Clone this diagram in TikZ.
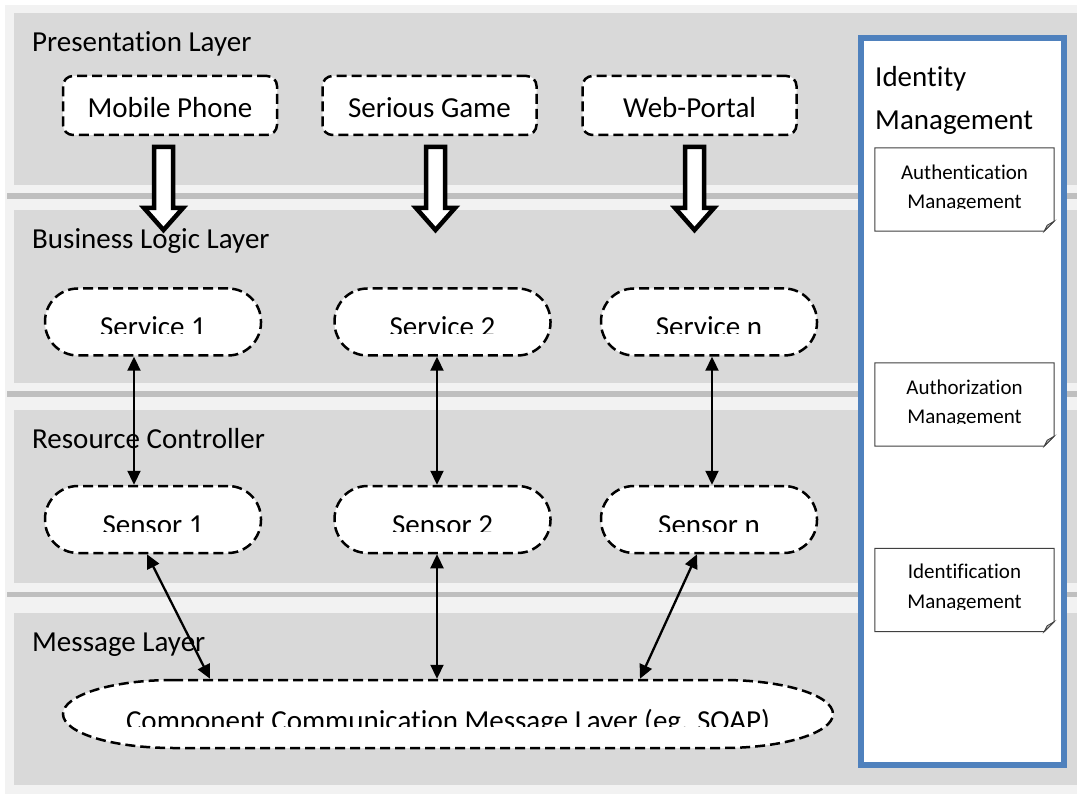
\documentclass[tikz,border=0pt]{standalone}
\usepackage{fontspec}
\setmainfont{Carlito}[Ligatures=NoCommon]
\usetikzlibrary{calc,arrows.meta}
\definecolor{lyrgray}{HTML}{D9D9D9}
\definecolor{lyrlight}{HTML}{F2F2F2}
\definecolor{lyrdark}{HTML}{BFBFBF}
\definecolor{idblue}{HTML}{4F81BD}
\newcommand\fbig{\fontsize{29pt}{34pt}\selectfont}
\newcommand\fsmall{\fontsize{21pt}{25pt}\selectfont}
\begin{document}
\begin{tikzpicture}[x=1pt,y=-1pt,
  dsh/.style={draw=black, line width=2.5pt, dash pattern=on 10pt off 5pt},
  pbox/.style={dsh, fill=white, rounded corners=10pt, minimum width=214pt, minimum height=59pt,
    inner sep=0pt, font=\fbig, text height=25pt, text depth=0pt},
  stad/.style={dsh, fill=white, rounded corners=33pt, minimum width=216pt, minimum height=67pt, inner sep=0pt},
  lbl/.style={anchor=base west, inner sep=0pt, font=\fbig},
  txt/.style={anchor=base, inner sep=0pt, font=\fbig},
  stxt/.style={anchor=base, inner sep=0pt, font=\fsmall},
  dbl/.style={line width=2.3pt, {Triangle[length=14pt,width=13pt]}-{Triangle[length=14pt,width=13pt]}},
  docn/.style={minimum width=179pt, minimum height=83pt, inner sep=0pt},
  docline/.style={draw=black!75, line width=1pt, fill=white},
  fold/.style={draw=black!75, line width=0.8pt, fill=black!25},
  harrow/.pic={\draw[line width=4.5pt, fill=white, miter limit=10]
     (-9.5,0) -- (9.5,0) -- (9.5,61) -- (19.5,61) -- (0,83) -- (-19.5,61) -- (-9.5,61) -- cycle;}
]
\useasboundingbox (0,0) rectangle (1077,794);
\fill[white] (0,0) rectangle (1077,794);
% layers
\fill[lyrlight] (5,5) rectangle (1077,794);
\fill[lyrdark] (7,193) rectangle (1077,199);
\fill[lyrdark] (7,391) rectangle (1077,397);
\fill[lyrdark] (7,592) rectangle (1077,597);
\fill[lyrgray] (14,13) rectangle (1077,185);
\fill[lyrgray] (14,210) rectangle (1077,383);
\fill[lyrgray] (14,410) rectangle (1077,583);
\fill[lyrgray] (14,613) rectangle (1077,785);

\node[lbl] (lpres) at (32,52) {Presentation Layer};
\node[lbl] (lbus) at (32,249) {Business Logic Layer};
\node[lbl] (lres) at (32,449) {Resource Controller};
\node[lbl] (lmsg) at (32,651) {Message Layer};

% identity management
\node[draw=idblue, line width=6pt, fill=white, minimum width=203pt, minimum height=727pt, inner sep=0pt] (idm) at (962.5,401.5) {};
\node[lbl] (id1) at (875,87) {Identity};
\node[lbl] (id2) at (875,130) {Management};

\node[docn] (au) at (964.5,189.5) {};
\node[docn] (az) at (964.5,404.5) {};
\node[docn] (ic) at (964.5,590) {};
\foreach \d in {au,az,ic}{
  \draw[docline] (\d.north west) -- (\d.north east) -- ([yshift=10pt]\d.south east)
     -- ([xshift=-10pt]\d.south east) -- (\d.south west) -- cycle;
  \draw[fold] ([yshift=10pt]\d.south east) -- ([xshift=-10pt]\d.south east) -- ([xshift=-7pt,yshift=6pt]\d.south east) -- cycle;
}
\begin{scope}
  \clip (au.north west) rectangle ($(au.south east)+(0,-22.5)$);
  \node[stxt] (au1) at ($(au.north)+(0,31.5)$) {Authentication};
  \node[stxt] (au2) at ($(au.north)+(0,60.5)$) {Management};
\end{scope}
\begin{scope}
  \clip (az.north west) rectangle ($(az.south east)+(0,-22.5)$);
  \node[stxt] (az1) at ($(az.north)+(0,31.5)$) {Authorization};
  \node[stxt] (az2) at ($(az.north)+(0,60.5)$) {Management};
\end{scope}
\begin{scope}
  \clip (ic.north west) rectangle ($(ic.south east)+(0,-22.5)$);
  \node[stxt] (ic1) at ($(ic.north)+(0,30.5)$) {Identification};
  \node[stxt] (ic2) at ($(ic.north)+(0,60.5)$) {Management};
\end{scope}

% presentation
\node[pbox] (p1) at (170,105.5) {Mobile Phone};
\node[pbox] (p2) at (429.5,105.5) {Serious Game};
\node[pbox] (p3) at (689.5,105.5) {Web-Portal};

% services and sensors
\node[stad] (sv1) at (153,322) {};
\node[stad] (sv2) at (442.5,322) {};
\node[stad] (svn) at (709,322) {};
\node[stad] (se1) at (153,519.5) {};
\node[stad] (se2) at (442.5,519.5) {};
\node[stad] (sen) at (709,519.5) {};
\foreach \n/\t in {sv1/Service 1,sv2/Service 2,svn/Service n,se1/Sensor 1,se2/Sensor 2,sen/Sensor n}{
  \begin{scope}
    \clip (\n.north west) rectangle ($(\n.east)+(0,11.5)$);
    \node[txt] (\n t) at ($(\n.center)+(0,15)$) {\t};
  \end{scope}
}

% message layer shape
\node[minimum width=770pt, minimum height=68pt, inner sep=0pt, outer sep=1.25pt] (msg) at (448,714) {};
\draw[dsh, fill=white] (173,680) -- (723,680) .. controls (783.8,680) and (833,695.2) .. (833,714)
   .. controls (833,732.8) and (783.8,748) .. (723,748) -- (173,748)
   .. controls (112.2,748) and (63,732.8) .. (63,714)
   .. controls (63,695.2) and (112.2,680) .. cycle;
\begin{scope}
  \clip (msg.north west) rectangle ($(msg.east)+(0,12.5)$);
  \node[txt] (msgt) at ($(msg.center)+(0,16)$) {Component Communication Message Layer (eg. SOAP)};
\end{scope}

% hollow arrows
\pic at ($(p1.south)+(-6.5,10.75)$) {harrow};
\pic at ($(p2.south)+(6,10.75)$) {harrow};
\pic at ($(p3.south)+(5,10.75)$) {harrow};

% double arrows
\draw[dbl] ($(sv1.south)+(-19,0)$) -- ($(se1.north)+(-19,0)$);
\draw[dbl] ($(sv2.south)+(-5.5,0)$) -- ($(se2.north)+(-5.5,0)$);
\draw[dbl] ($(svn.south)+(3,0)$) -- ($(sen.north)+(3,0)$);
\draw[dbl] ($(se1.south)+(-6,0)$) -- ($(msg.north)+(-238,0)$);
\draw[dbl] ($(se2.south)+(-5.5,0)$) -- ($(msg.north)+(-11,0)$);
\draw[dbl] ($(sen.south)+(-12,0)$) -- ($(msg.north)+(192,0)$);
\end{tikzpicture}
\end{document}
